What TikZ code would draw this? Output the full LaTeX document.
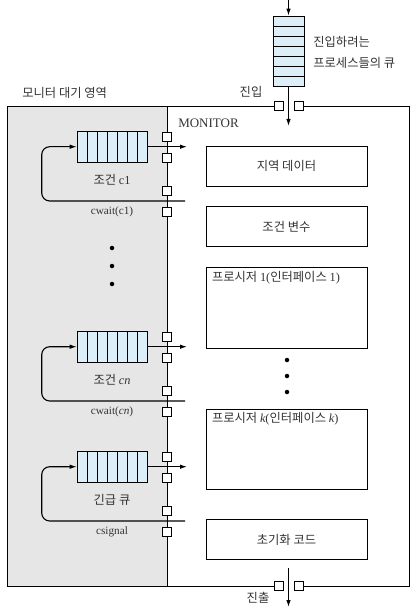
\documentclass[tikz,border=0pt]{standalone}
\usepackage{fontspec}
\setmainfont{Liberation Serif}
\newfontfamily\kr{Noto Sans CJK KR}
\usepackage{tikz}
\usetikzlibrary{arrows.meta, positioning, calc}
\definecolor{grisEspera}{HTML}{E6E6E6}
\definecolor{azulCola}{HTML}{DCEEF8}
\definecolor{textoGris}{HTML}{333333}

\begin{document}
\begin{tikzpicture}[x=1pt, y=-1pt, line width=0.6pt,
        cola/.style={draw, fill=azulCola, minimum width=70pt, minimum height=31pt, inner sep=0pt,
            path picture={\foreach \k in {1,...,6} \draw ([xshift=\k*10pt]path picture bounding box.north west) -- ([xshift=\k*10pt]path picture bounding box.south west);}},
        colaV/.style={draw, fill=azulCola, minimum width=31pt, minimum height=70pt, inner sep=0pt,
            path picture={\foreach \k in {1,...,6} \draw ([yshift=-\k*10pt]path picture bounding box.north west) -- ([yshift=-\k*10pt]path picture bounding box.north east);}},
        caja/.style={draw, minimum width=161pt, minimum height=40pt, inner sep=0pt,
            font=\kr\fontsize{12.3}{14}\selectfont, text=textoGris},
        puerto/.style={draw, fill=white, minimum size=9pt, inner sep=0pt},
        etq/.style={font=\fontsize{11.2}{13}\selectfont, text=textoGris, inner sep=0pt},
        etqK/.style={font=\kr\fontsize{12.3}{14}\selectfont, text=textoGris, inner sep=0pt},
        flecha/.style={-{Latex[length=7pt, width=4.5pt]}, line width=1.1pt},
        punto/.style={circle, fill, inner sep=0pt, minimum size=4.5pt}
    ]
    \useasboundingbox (0,0) rectangle (416,612);
    % zona de espera y monitor
    \fill[grisEspera] (7,106) rectangle (167,586);
    \draw (274,106) -- (7,106) -- (7,586) -- (274,586);
    \draw (303,586) -- (409,586) -- (409,106) -- (303,106);
    \draw (167,106) -- (167,586);
    \node[etqK, anchor=west] (zona) at (22,93) {모니터 대기 영역};
    \node[etq, font=\fontsize{13}{15}\selectfont, anchor=west] (monitor) at (178,123) {MONITOR};

    % entrada
    \coordinate (arriba) at (288.5,0);
    \coordinate (entra) at (288.5,126);
    \node[colaV] (qin) at (288.5,51) {};
    \draw[flecha] (arriba) -- (qin.north);
    \draw[flecha] (qin.south) -- (entra);
    \node[puerto] (pe1) at (278.5,106) {};
    \node[puerto] (pe2) at (298.5,106) {};
    \node[etqK, anchor=west] (lq1) at (313,42) {진입하려는};
    \node[etqK, anchor=west] (lq2) at (313,63) {프로세스들의 큐};
    \node[etqK] (lentra) at (251,92) {진입};

    % salida
    \coordinate (sale0) at (288.5,568);
    \coordinate (sale) at (288.5,607);
    \draw[flecha] (sale0) -- (sale);
    \node[puerto] (ps1) at (278.5,586) {};
    \node[puerto] (ps2) at (298.5,586) {};
    \node[etqK] (lsale) at (258,598) {진출};

    % cajas del monitor
    \node[caja] (datos) at (286.5,166) {지역 데이터};
    \node[caja, below=20pt of datos] (vars) {조건 변수};
    \node[caja, below=20pt of vars, minimum height=81pt] (proc1) {};
    \node[caja, below=60pt of proc1, minimum height=80pt] (prock) {};
    \node[caja, below=30pt of prock] (init) {초기화 코드};
    \node[etqK, anchor=north west] (lp1) at ([xshift=6pt, yshift=-4pt]proc1.north west) {프로시저 {\rmfamily 1(}인터페이스 {\rmfamily 1)}};
    \node[etqK, anchor=north west] (lpk) at ([xshift=6pt, yshift=-4pt]prock.north west) {프로시저 {\rmfamily\itshape k}{\rmfamily (}인터페이스 {\rmfamily\itshape k}{\rmfamily )}};
    \node[punto] (dr1) at (287,360) {};
    \node[punto] (dr2) at (287,376) {};
    \node[punto] (dr3) at (287,392) {};

    % condicion c1
    \node[cola] (c1) at (112,146.7) {};
    \node[etqK] (lc1) at (112,180) {조건 {\rmfamily c1}};
    \node[etq] (lw1) at (112,212) {cwait(c1)};
    \coordinate (s1) at (187,146.7);
    \coordinate (w1) at (185,201);
    \draw[flecha] (c1.east) -- (s1);
    \draw[flecha, rounded corners=8pt] (w1) -| ([xshift=-35pt]c1.west) -- (c1.west);
    \node[puerto] (p1a) at (167,136.7) {};
    \node[puerto] (p1b) at (167,157.7) {};
    \node[puerto] (p1c) at (167,191) {};
    \node[puerto] (p1d) at (167,212) {};

    \node[punto] (dl1) at (112,248) {};
    \node[punto] (dl2) at (112,266) {};
    \node[punto] (dl3) at (112,284) {};

    % condicion cn
    \node[cola] (cn) at (112,346.7) {};
    \node[etqK] (lcn) at (112,380) {조건 {\rmfamily\itshape cn}};
    \node[etq] (lwn) at (112,412) {cwait(\textit{cn})};
    \coordinate (sn) at (187,346.7);
    \coordinate (wn) at (185,401);
    \draw[flecha] (cn.east) -- (sn);
    \draw[flecha, rounded corners=8pt] (wn) -| ([xshift=-35pt]cn.west) -- (cn.west);
    \node[puerto] (pna) at (167,336.7) {};
    \node[puerto] (pnb) at (167,357.7) {};
    \node[puerto] (pnc) at (167,391) {};
    \node[puerto] (pnd) at (167,412) {};

    % cola urgente
    \node[cola] (cu) at (112,466.7) {};
    \node[etqK] (lcu) at (112,500) {긴급 큐};
    \node[etq] (lwu) at (112,532) {csignal};
    \coordinate (su) at (187,466.7);
    \coordinate (wu) at (185,521);
    \draw[flecha] (cu.east) -- (su);
    \draw[flecha, rounded corners=8pt] (wu) -| ([xshift=-35pt]cu.west) -- (cu.west);
    \node[puerto] (pua) at (167,456.7) {};
    \node[puerto] (pub) at (167,477.7) {};
    \node[puerto] (puc) at (167,511) {};
    \node[puerto] (pud) at (167,532) {};
\end{tikzpicture}
\end{document}
